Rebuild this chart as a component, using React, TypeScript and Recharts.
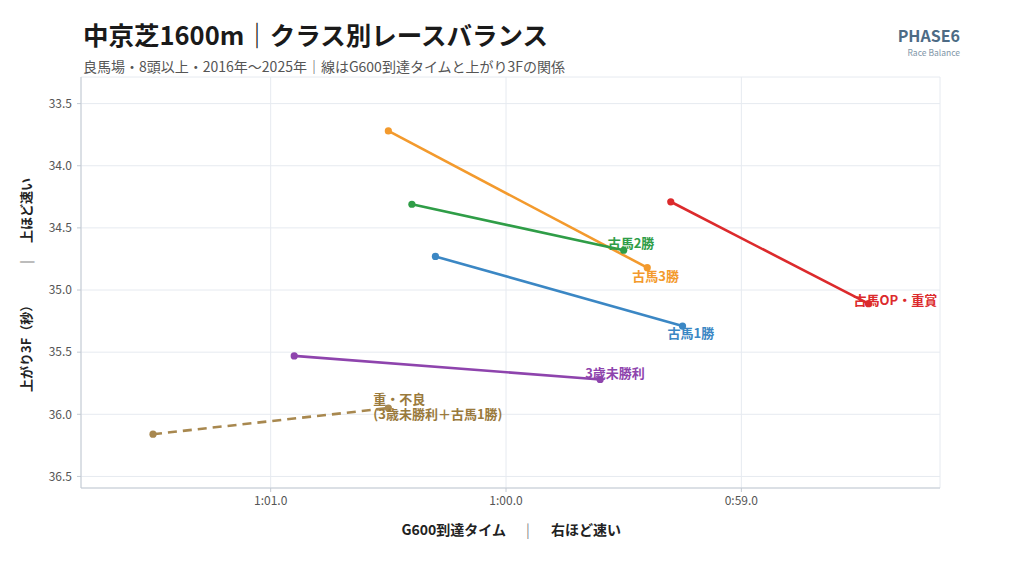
import { ScatterChart, Scatter, XAxis, YAxis, CartesianGrid } from "recharts";

// クラス別: G600到達タイム(秒) → 上がり3F(秒) の始点と終点
const CLASSES = ["古馬OP・重賞", "古馬3勝", "古馬2勝", "古馬1勝", "3歳未勝利", "重・不良\n(3歳未勝利＋古馬1勝)"];
const G600_FROM = [59.3, 60.5, 60.4, 60.3, 60.9, 61.5];
const L3F_FROM = [34.29, 33.72, 34.31, 34.73, 35.53, 36.16];
const G600_TO = [58.46, 59.4, 59.5, 59.25, 59.6, 60.5];
const L3F_TO = [35.11, 34.82, 34.68, 35.29, 35.72, 35.95];

const X_TICKS = [61, 60, 59];
const Y_TICKS = [33.5, 34, 34.5, 35, 35.5, 36, 36.5];

const COLORS = ["#dc2a2c", "#f39a2d", "#2f9d47", "#3b87c4", "#8e44ad", "#a8884f"];
const LABEL_COLORS = ["#dc2a2c", "#f39a2d", "#2f9d47", "#3b87c4", "#8e44ad", "#9a7a3c"];
const DASHES = ["", "", "", "", "", "9 6"];
// ラベル位置のずれ (px)
const LABEL_DX = [-15, -15, -16, -15, -15, -15];
const LABEL_DY = [-5, 7, -8, 6, -8, -10];

const FONT = "'Noto Sans CJK JP', 'Noto Sans', sans-serif";

const fmtTime = (v: number) => `${Math.floor(v / 60)}:${(v % 60).toFixed(1).padStart(4, "0")}`;

const series = CLASSES.map((name, i) => ({
  name,
  color: COLORS[i],
  dash: DASHES[i],
  points: [
    { x: G600_FROM[i], y: L3F_FROM[i] },
    { x: G600_TO[i], y: L3F_TO[i] },
  ],
}));

const labelPoints = CLASSES.map((name, i) => ({ x: G600_TO[i], y: L3F_TO[i], name, idx: i }));

function LabelShape(props: any) {
  const { cx, cy, payload } = props;
  const i = payload.idx;
  const lines = String(payload.name).split("\n");
  return (
    <text
      x={cx + LABEL_DX[i]}
      y={cy + LABEL_DY[i]}
      fill={LABEL_COLORS[i]}
      fontSize={13}
      fontWeight={700}
      fontFamily={FONT}
      dominantBaseline="central"
    >
      {lines.map((l, k) => (
        <tspan key={k} x={cx + LABEL_DX[i]} dy={k === 0 ? 0 : 15}>
          {l}
        </tspan>
      ))}
    </text>
  );
}

export default function App() {
  const tick = { fill: "#555", fontSize: 12, fontFamily: FONT };
  return (
    <div style={{ position: "absolute", left: 0, top: 0, width: 1024, height: 570, background: "#fff" }}>
      <ScatterChart width={1024} height={570} margin={{ top: 77, right: 84, bottom: 52, left: 0 }}>
        <CartesianGrid stroke="#e6eaf0" strokeWidth={1} />
        <XAxis
          type="number"
          dataKey="x"
          domain={[58.156, 61.806]}
          reversed
          ticks={X_TICKS}
          tickFormatter={fmtTime}
          allowDataOverflow
          height={30}
          tick={tick}
          tickSize={4}
          tickMargin={4}
          axisLine={{ stroke: "#c3cad3" }}
          tickLine={{ stroke: "#c3cad3" }}
        />
        <YAxis
          type="number"
          dataKey="y"
          domain={[33.286, 36.593]}
          reversed
          ticks={Y_TICKS}
          tickFormatter={(v: number) => v.toFixed(1)}
          allowDataOverflow
          width={81}
          tick={tick}
          tickSize={4}
          tickMargin={5}
          axisLine={{ stroke: "#c3cad3" }}
          tickLine={{ stroke: "#c3cad3" }}
        />
        {series.map((s) => (
          <Scatter
            key={s.name}
            data={s.points}
            isAnimationActive={false}
            line={{ stroke: s.color, strokeWidth: 2.6, strokeDasharray: s.dash || undefined }}
            shape={(p: any) => <circle cx={p.cx} cy={p.cy} r={3.6} fill={s.color} />}
          />
        ))}
        <Scatter data={labelPoints} isAnimationActive={false} shape={LabelShape} />
      </ScatterChart>
      <svg width={1024} height={570} style={{ position: "absolute", left: 0, top: 0, pointerEvents: "none" }}>
        <text x={83} y={45} fontSize={25.5} fontWeight={700} fill="#1a1a1a" fontFamily={FONT}>
          中京芝1600m｜クラス別レースバランス
        </text>
        <text x={83} y={72} fontSize={14} fill="#555" fontFamily={FONT}>
          良馬場・8頭以上・2016年〜2025年｜線はG600到達タイムと上がり3Fの関係
        </text>
        <text x={960} y={42} textAnchor="end" fontSize={16} fontWeight={700} fill="#4d6b85" fontFamily={FONT}>
          PHASE6
        </text>
        <text x={960} y={56} textAnchor="end" fontSize={8.5} fill="#8196a8" fontFamily={FONT}>
          Race Balance
        </text>
        <g fontFamily={FONT} fontSize={14} fill="#222">
          <text x={506} y={535} textAnchor="end" fontWeight={700}>G600到達タイム</text>
          <text x={528} y={535} textAnchor="middle" fill="#888">|</text>
          <text x={551} y={535} textAnchor="start" fontWeight={700}>右ほど速い</text>
        </g>
        <g fontFamily={FONT} fontSize={13} fill="#222" transform="rotate(-90)">
          <text x={-392} y={31} textAnchor="start" fontWeight={700}>上がり3F（秒）</text>
          <text x={-262} y={31} textAnchor="middle" fill="#888">|</text>
          <text x={-243} y={31} textAnchor="start" fontWeight={700}>上ほど速い</text>
        </g>
      </svg>
    </div>
  );
}
